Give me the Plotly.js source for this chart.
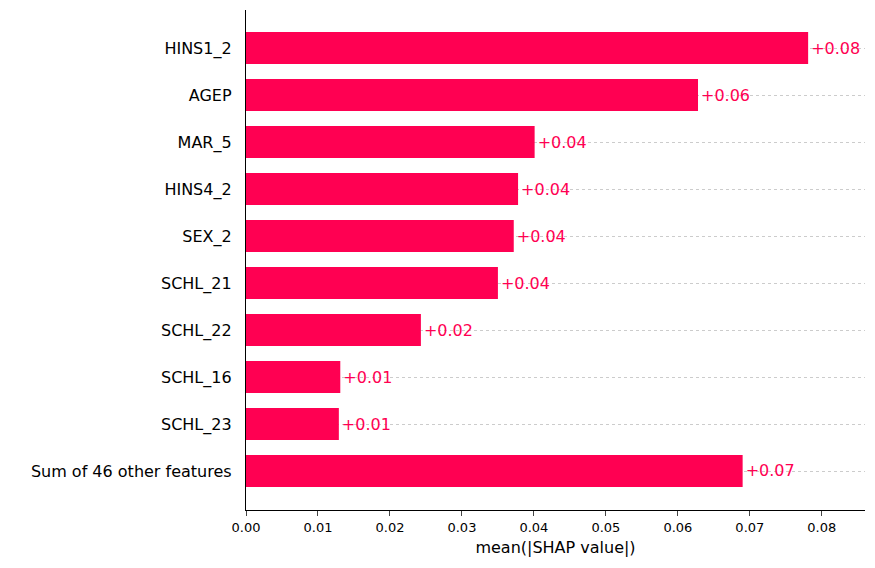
<!DOCTYPE html>
<html>
<head>
<script src="https://cdn.plot.ly/plotly-3.0.1.min.js"></script>
<style>body{margin:0}</style>
</head>
<body>
<div id="plot" style="width:875px;height:568px"></div>
<script>
const features = ["HINS1_2", "AGEP", "MAR_5", "HINS4_2", "SEX_2", "SCHL_21", "SCHL_22", "SCHL_16", "SCHL_23", "Sum of 46 other features"]
const meanShap = [0.0781, 0.0628, 0.0401, 0.0378, 0.0372, 0.0350, 0.0243, 0.0131, 0.0129, 0.0690]
const xTicks = [0, 0.01, 0.02, 0.03, 0.04, 0.05, 0.06, 0.07, 0.08]

const color = "#ff0052"

const trace = {
  type: "bar",
  orientation: "h",
  x: meanShap,
  y: features,
  width: 0.68,
  marker: { color: color },
  text: meanShap.map(v => "+" + v.toFixed(2)),
  textposition: "outside",
  cliponaxis: false,
  textfont: { color: color, size: 16 },
  hoverinfo: "none"
}

const layout = {
  margin: { l: 246, r: 10, t: 10, b: 58, pad: 0 },
  font: { family: "DejaVu Sans", color: "#000" },
  plot_bgcolor: "#fff",
  paper_bgcolor: "#fff",
  showlegend: false,
  bargap: 0.32,
  xaxis: {
    range: [0, 0.086],
    tickvals: xTicks,
    ticktext: xTicks.map(v => v.toFixed(2)),
    ticks: "outside",
    ticklen: 5,
    tickfont: { size: 13 },
    showline: true,
    linecolor: "#000",
    showgrid: false,
    zeroline: false,
    title: { text: "mean(|SHAP value|)", font: { size: 16 }, standoff: 8 }
  },
  yaxis: {
    type: "category",
    range: [9.83, -0.81],
    showline: true,
    linecolor: "#000",
    ticks: "",
    ticksuffix: "  ",
    tickfont: { size: 16 },
    showgrid: true,
    gridcolor: "#cccccc",
    griddash: "dot",
    gridwidth: 1,
    zeroline: false
  }
}

Plotly.newPlot("plot", [trace], layout, { displayModeBar: false, staticPlot: true })
</script>
</body>
</html>
